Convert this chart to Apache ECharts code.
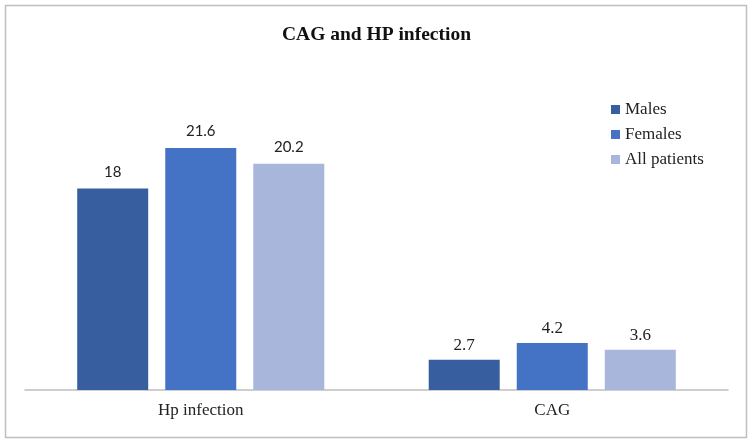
<!DOCTYPE html>
<html><head><meta charset="utf-8">
<script src="https://cdn.jsdelivr.net/npm/echarts@6/dist/echarts.min.js"></script>
<style>html,body{margin:0;padding:0;background:#fff}#c{width:753px;height:443px}</style>
</head><body><div id="c"></div>
<script>
var categories = ['Hp infection', 'CAG'];
var seriesNames = ['Males', 'Females', 'All patients'];
var males = [18, 2.7];
var females = [21.6, 4.2];
var allPatients = [20.2, 3.6];
var colors = ['#375E9E', '#4472C4', '#A9B6DB'];

var serif = '"Liberation Serif", serif';
var sans = 'Lato, "Liberation Sans", sans-serif';

function mk(vals) {
  return vals.map(function (v, i) {
    return {
      value: v,
      label: i === 0 ? { fontFamily: sans, fontSize: 15, distance: 9 } : { fontFamily: serif, fontSize: 17, distance: 6 }
    };
  });
}
var data = [males, females, allPatients];
var chart = echarts.init(document.getElementById('c'));
chart.setOption({
  animation: false,
  backgroundColor: '#fff',
  title: {
    text: 'CAG and HP infection', left: 'center', top: 20,
    textStyle: { fontFamily: serif, fontWeight: 'bold', fontSize: 19.5, color: '#111' }
  },
  legend: {
    orient: 'vertical', left: 606, top: 96,
    itemWidth: 9, itemHeight: 9, itemGap: 8,
    icon: 'rect',
    textStyle: { fontFamily: serif, fontSize: 17, color: '#222' },
    data: seriesNames
  },
  grid: { left: 25, right: 25, top: 110, bottom: 53 },
  xAxis: {
    type: 'category', data: categories,
    axisLine: { lineStyle: { color: '#BFBFBF', width: 1.5 } },
    axisTick: { show: false },
    axisLabel: { fontFamily: serif, fontSize: 17, color: '#222', margin: 12 }
  },
  yAxis: { type: 'value', min: 0, max: 25, show: false, splitLine: { show: false } },
  graphic: [{
    type: 'rect', shape: { x: 5.5, y: 5.5, width: 741, height: 432 },
    style: { fill: 'none', stroke: '#BFBFBF', lineWidth: 1.5 }, silent: true
  }],
  series: seriesNames.map(function (n, k) {
    return {
      name: n, type: 'bar', data: mk(data[k]),
      barWidth: 71, barGap: '24%',
      itemStyle: { color: colors[k] },
      label: { show: true, position: 'top', color: '#222' }
    };
  })
});
</script></body></html>
